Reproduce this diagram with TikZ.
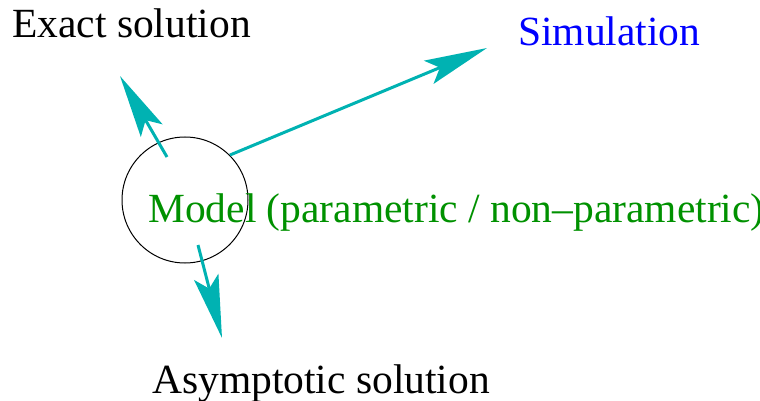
\documentclass[tikz,border=0pt]{standalone}
\usepackage{fontspec}
\setmainfont{Liberation Serif}
\usetikzlibrary{arrows.meta}
\definecolor{arrowcyan}{RGB}{0,178,178}
\definecolor{modelgreen}{RGB}{0,145,0}
\begin{document}
\begin{tikzpicture}[x=1pt,y=-1pt,
  lbl/.style={anchor=base west,inner sep=0pt,font=\fontsize{41.5}{49}\selectfont},
  flow/.style={draw=arrowcyan,line width=3pt,
    -{Stealth[length=63pt,width=25pt,inset=12pt,fill=arrowcyan]}}]
\useasboundingbox (0,0) rectangle (760,401);
\clip (0,0) rectangle (760,401);
\node[draw=black,line width=1pt,circle,minimum size=126pt,inner sep=0pt] (circ) at (185,200) {};
\node[lbl] (exact) at (12,38) {Exact solution};
\node[lbl,text=blue] (sim) at (518,46) {Simulation};
\node[lbl,text=modelgreen] (model) at (148,222) {Model (parametric / non–parametric)};
\node[lbl] (asym) at (152,393) {Asymptotic solution};
\coordinate (s1) at (167,157);
\coordinate (t1) at (120,76);
\coordinate (s2) at (230,155);
\coordinate (t2) at (487,48);
\coordinate (s3) at (198,245);
\coordinate (t3) at (222,338);
\draw[flow] (s1) -- (t1);
\draw[flow] (s2) -- (t2);
\draw[flow] (s3) -- (t3);
\end{tikzpicture}
\end{document}
